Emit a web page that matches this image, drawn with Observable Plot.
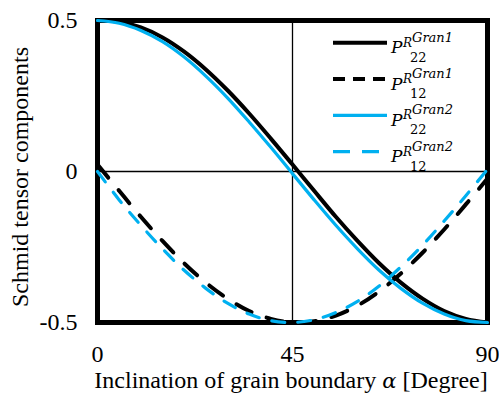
<!DOCTYPE html>
<html><head><meta charset="utf-8">
<script src="https://cdn.jsdelivr.net/npm/d3@7"></script>
<script src="https://cdn.jsdelivr.net/npm/@observablehq/plot@0.6"></script>
<style>body{margin:0;background:#fff}</style>
</head><body><div id="chart"></div>
<script>
// Inclination of grain boundary (degrees)
const alpha = [0,5,10,15,20,25,30,35,40,45,50,55,60,65,70,75,80,85,90];
// P22 Gran1 (black solid)
const p22g1 = [0.5,0.496,0.477,0.444,0.397,0.338,0.269,0.192,0.109,0.023,-0.064,-0.150,-0.230,-0.304,-0.368,-0.421,-0.462,-0.488,-0.5];
// P12 Gran1 (black dashed)
const p12g1 = [0.023,-0.064,-0.150,-0.230,-0.304,-0.368,-0.421,-0.462,-0.488,-0.5,-0.496,-0.477,-0.444,-0.397,-0.338,-0.269,-0.192,-0.109,-0.023];
// P22 Gran2 (blue solid)
const p22g2 = [0.5,0.491,0.467,0.430,0.379,0.316,0.244,0.164,0.080,-0.007,-0.094,-0.178,-0.256,-0.327,-0.387,-0.436,-0.472,-0.494,-0.5];
// P12 Gran2 (blue dashed)
const p12g2 = [0,-0.094,-0.178,-0.256,-0.327,-0.387,-0.436,-0.472,-0.494,-0.5,-0.491,-0.467,-0.430,-0.379,-0.316,-0.244,-0.164,-0.080,0.007];

const xTicks = [0,45,90];
const yTicks = [-0.5,0,0.5];
const legendSup = ["Gran1","Gran1","Gran2","Gran2"];
const legendSub = ["22","12","22","12"];

const BLUE = "#00B0F0";
const SERIF = "'Liberation Serif', 'Times New Roman', Times, serif";
const styles = [
  {stroke:"#000", strokeWidth:4, dash:null, legDash:null},
  {stroke:"#000", strokeWidth:4, dash:"17,16", legDash:"12,8"},
  {stroke:BLUE, strokeWidth:3.2, dash:null, legDash:null},
  {stroke:BLUE, strokeWidth:3.2, dash:"13,13", legDash:"17,12"}
];
const seriesVals = [p22g1, p12g1, p22g2, p12g2];

const lineMarks = seriesVals.map((vals, k) => {
  const s = styles[k];
  const opts = {x:"a", y:"v", stroke:s.stroke, strokeWidth:s.strokeWidth, curve:"catmull-rom"};
  if (s.dash) opts.strokeDasharray = s.dash;
  return Plot.line(alpha.map((a,i)=>({a, v: vals[i]})), opts);
});

const plot = Plot.plot({
  width: 499, height: 394,
  marginLeft: 97, marginRight: 12, marginTop: 20, marginBottom: 72,
  style: {fontFamily: SERIF, fontSize: "24px", color: "#000", background: "#fff"},
  x: {domain:[0,90], label:null},
  y: {domain:[-0.5,0.5], label:null},
  marks: [
    Plot.frame({stroke:"#000", strokeWidth:5}),
    Plot.ruleY([0], {stroke:"#000", strokeWidth:1.3}),
    Plot.ruleX([45], {stroke:"#000", strokeWidth:1.3}),
    ...lineMarks,
    Plot.axisX({ticks:xTicks, tickSize:0, tickPadding:22, label:null, tickFormat: d => String(d)}),
    Plot.axisY({ticks:yTicks, tickSize:0, tickPadding:20, label:null, tickFormat: d => d === 0 ? "0" : String(d)})
  ]
});
document.getElementById("chart").appendChild(plot);

const svg = d3.select(plot);
// axis titles
const xl = svg.append("text").attr("x", 291).attr("y", 388).attr("text-anchor","middle")
  .attr("font-family", SERIF).attr("font-size",24).attr("fill","#000");
xl.append("tspan").text("Inclination of grain boundary ");
xl.append("tspan").attr("font-style","italic").attr("font-family","'DejaVu Serif', serif").attr("font-size",21).text("α");
xl.append("tspan").text(" [Degree]");

svg.append("text").attr("transform","translate(28,177) rotate(-90)").attr("text-anchor","middle")
  .attr("font-family", SERIF).attr("font-size",24).attr("fill","#000")
  .text("Schmid tensor components");

// legend
const lg = svg.append("g").attr("font-family","'DejaVu Serif', serif").attr("fill","#000").attr("text-anchor","start");
styles.forEach((s, i) => {
  const ry = 42.7 + i * 36.3;
  const ln = lg.append("line").attr("x1",333).attr("x2",387).attr("y1",ry).attr("y2",ry)
    .attr("stroke", s.stroke).attr("stroke-width", s.strokeWidth);
  if (s.legDash) ln.attr("stroke-dasharray", s.legDash);
  lg.append("text").attr("text-anchor","start").attr("x",391).attr("y",ry+10.6).attr("font-style","italic").attr("font-size",17).text("P");
  lg.append("text").attr("text-anchor","start").attr("x",403).attr("y",ry+4).attr("font-style","italic").attr("font-size",12).text("R");
  lg.append("text").attr("text-anchor","start").attr("x",412).attr("y",ry-1).attr("font-style","italic").attr("font-size",13).text(legendSup[i]);
  lg.append("text").attr("text-anchor","start").attr("x",410).attr("y",ry+19).attr("font-size",13).text(legendSub[i]);
});
</script>
</body></html>
